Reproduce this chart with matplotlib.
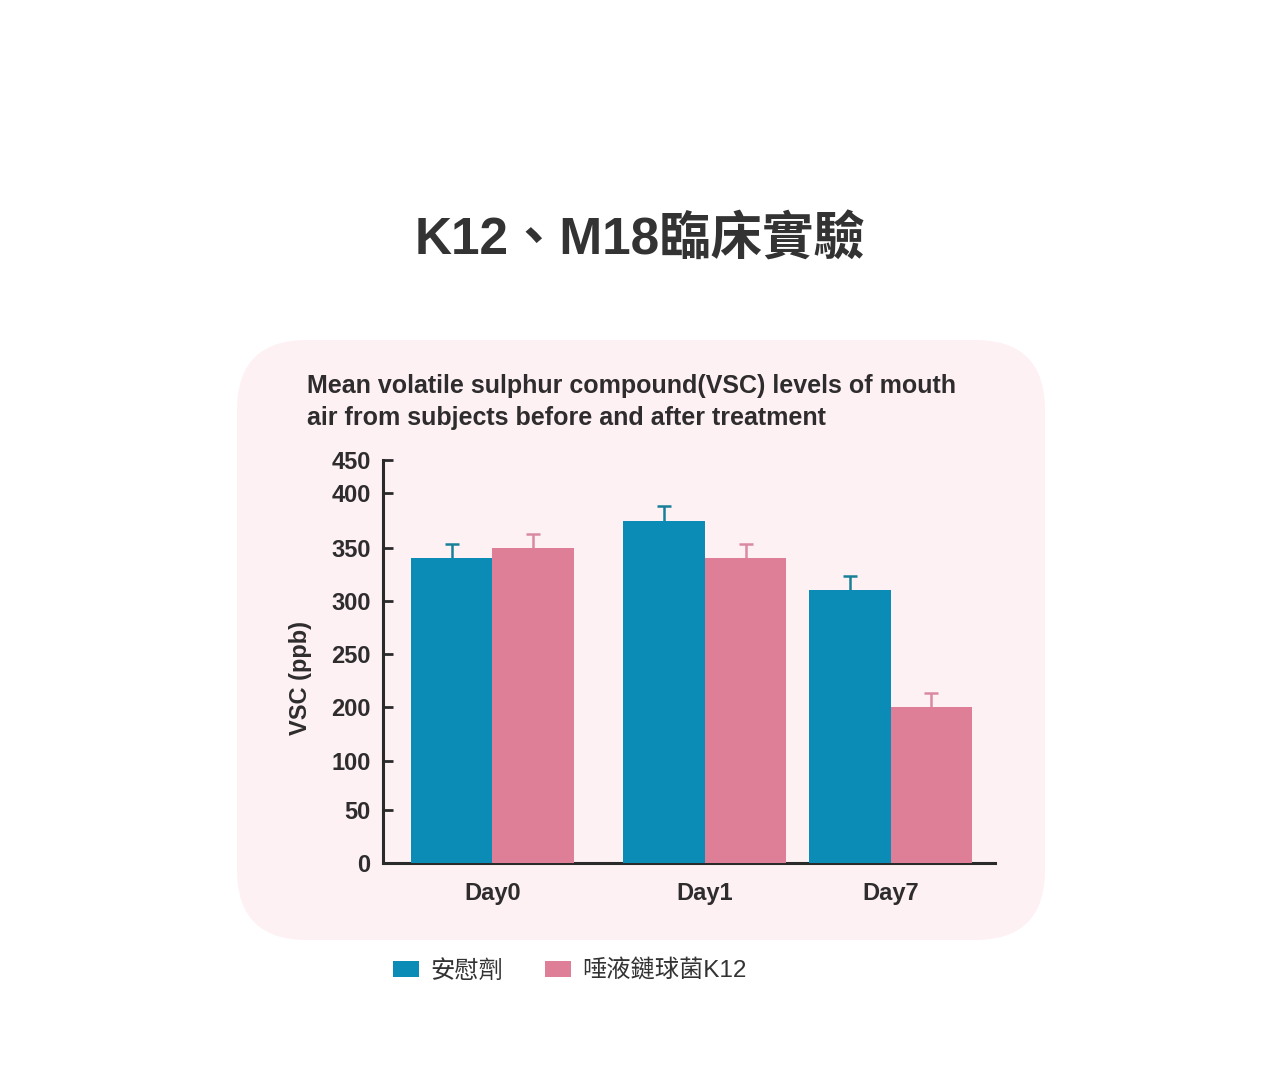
import matplotlib
matplotlib.use("Agg")
import matplotlib.pyplot as plt
import numpy as np
from matplotlib.patches import FancyBboxPatch, Patch

# data
days = ["Day0", "Day1", "Day7"]
placebo = [340, 375, 310]
k12 = [350, 340, 200]
placebo_err = [13, 13, 13]
k12_err = [13, 13, 13]
series_names = ["安慰劑", "唾液鏈球菌K12"]

# the y axis of the original is not linear: tick labels and where they sit
tick_labels = [0, 50, 100, 200, 250, 300, 350, 400, 450]
tick_pos = [0, 52.7, 102, 156, 208.4, 261.7, 315, 369.4, 402.7]

blue = "#0a8cb7"
pink = "#de7e97"
blue_err = "#177f98"
pink_err = "#d98aa1"
text_col = "#2e2c2d"

latin = ["Liberation Sans", "DejaVu Sans"]
mixed = ["Liberation Sans", "Noto Sans CJK TC", "DejaVu Sans"]

fig = plt.figure(figsize=(12.8, 10.67), dpi=100)
fig.patch.set_facecolor("white")

# background layer in pixel units for the rounded panel
bg = fig.add_axes([0, 0, 1, 1], zorder=-1)
bg.set_xlim(0, 1280)
bg.set_ylim(1067, 0)
bg.axis("off")
panel = FancyBboxPatch((237, 340), 808, 600,
                       boxstyle="round,pad=0,rounding_size=70",
                       facecolor="#fdf1f4", edgecolor="none")
bg.add_patch(panel)

fig.text(0.5, 1 - 241 / 1067, "K12、M18臨床實驗", ha="center", va="center",
         fontsize=37, family=mixed, fontweight="semibold", color="#333333")

fig.text(307 / 1280, 1 - 386 / 1067,
         "Mean volatile sulphur compound(VSC) levels of mouth",
         ha="left", va="center", fontsize=18, family=latin,
         fontweight="bold", color=text_col)
fig.text(307 / 1280, 1 - 418 / 1067,
         "air from subjects before and after treatment",
         ha="left", va="center", fontsize=18, family=latin,
         fontweight="bold", color=text_col)

ax = fig.add_axes([383 / 1280, 1 - 862.7 / 1067, 612 / 1280, 402.7 / 1067])
ax.set_facecolor("none")


def fwd(v):
    return np.interp(v, tick_labels, tick_pos)


def inv(p):
    return np.interp(p, tick_pos, tick_labels)


ax.set_yscale("function", functions=(fwd, inv))

group_x = np.array([1.343, 3.95, 6.23])
w = 1.0
ax.bar(group_x - w / 2, placebo, width=w, color=blue, zorder=3)
ax.bar(group_x + w / 2, k12, width=w, color=pink, zorder=3)
for xs, vals, errs, c in [(group_x - w / 2, placebo, placebo_err, blue_err),
                          (group_x + w / 2, k12, k12_err, pink_err)]:
    eb = ax.errorbar(xs, vals, yerr=[[0] * 3, errs], fmt="none", ecolor=c,
                     elinewidth=1.8, capsize=5, capthick=1.8, zorder=2)
    # only the upper cap is drawn in the original
    eb[1][0].set_visible(False)

ax.set_xlim(0, 612 / 81.5)
ax.set_ylim(0, 450)
ax.set_yticks(tick_labels)
ax.set_yticklabels([str(t) for t in tick_labels])
ax.yaxis.set_minor_locator(matplotlib.ticker.NullLocator())
ax.set_xticks(group_x)
ax.set_xticklabels(days)

for s in ["top", "right"]:
    ax.spines[s].set_visible(False)
for s in ["left", "bottom"]:
    ax.spines[s].set_linewidth(2.2)
    ax.spines[s].set_color("#2b2a2b")

ax.tick_params(axis="y", direction="in", length=7, width=2, color="#2b2a2b",
               pad=9, labelsize=17, labelcolor=text_col)
ax.tick_params(axis="x", length=0, pad=14, labelsize=17, labelcolor=text_col)
for lab in ax.get_xticklabels() + ax.get_yticklabels():
    lab.set_family(latin)
    lab.set_fontweight("bold")

ax.set_ylabel("VSC (ppb)", fontsize=17, family=latin, fontweight="bold",
              color=text_col)
ax.yaxis.set_label_coords((312 - 383) / 612, (862.7 - 678) / 402.7)

handles = [Patch(facecolor=blue, edgecolor="none"),
           Patch(facecolor=pink, edgecolor="none")]
fig.legend(handles, series_names, loc="center left",
           bbox_to_anchor=(393 / 1280, 1 - 971 / 1067), ncol=2,
           frameon=False, borderpad=0, borderaxespad=0,
           handlelength=1.06, handleheight=0.6, handletextpad=0.47,
           columnspacing=1.75,
           prop={"family": mixed, "size": 17.5})
for t in fig.legends[0].get_texts():
    t.set_color("#333333")

fig.savefig("out.png", dpi=100)
